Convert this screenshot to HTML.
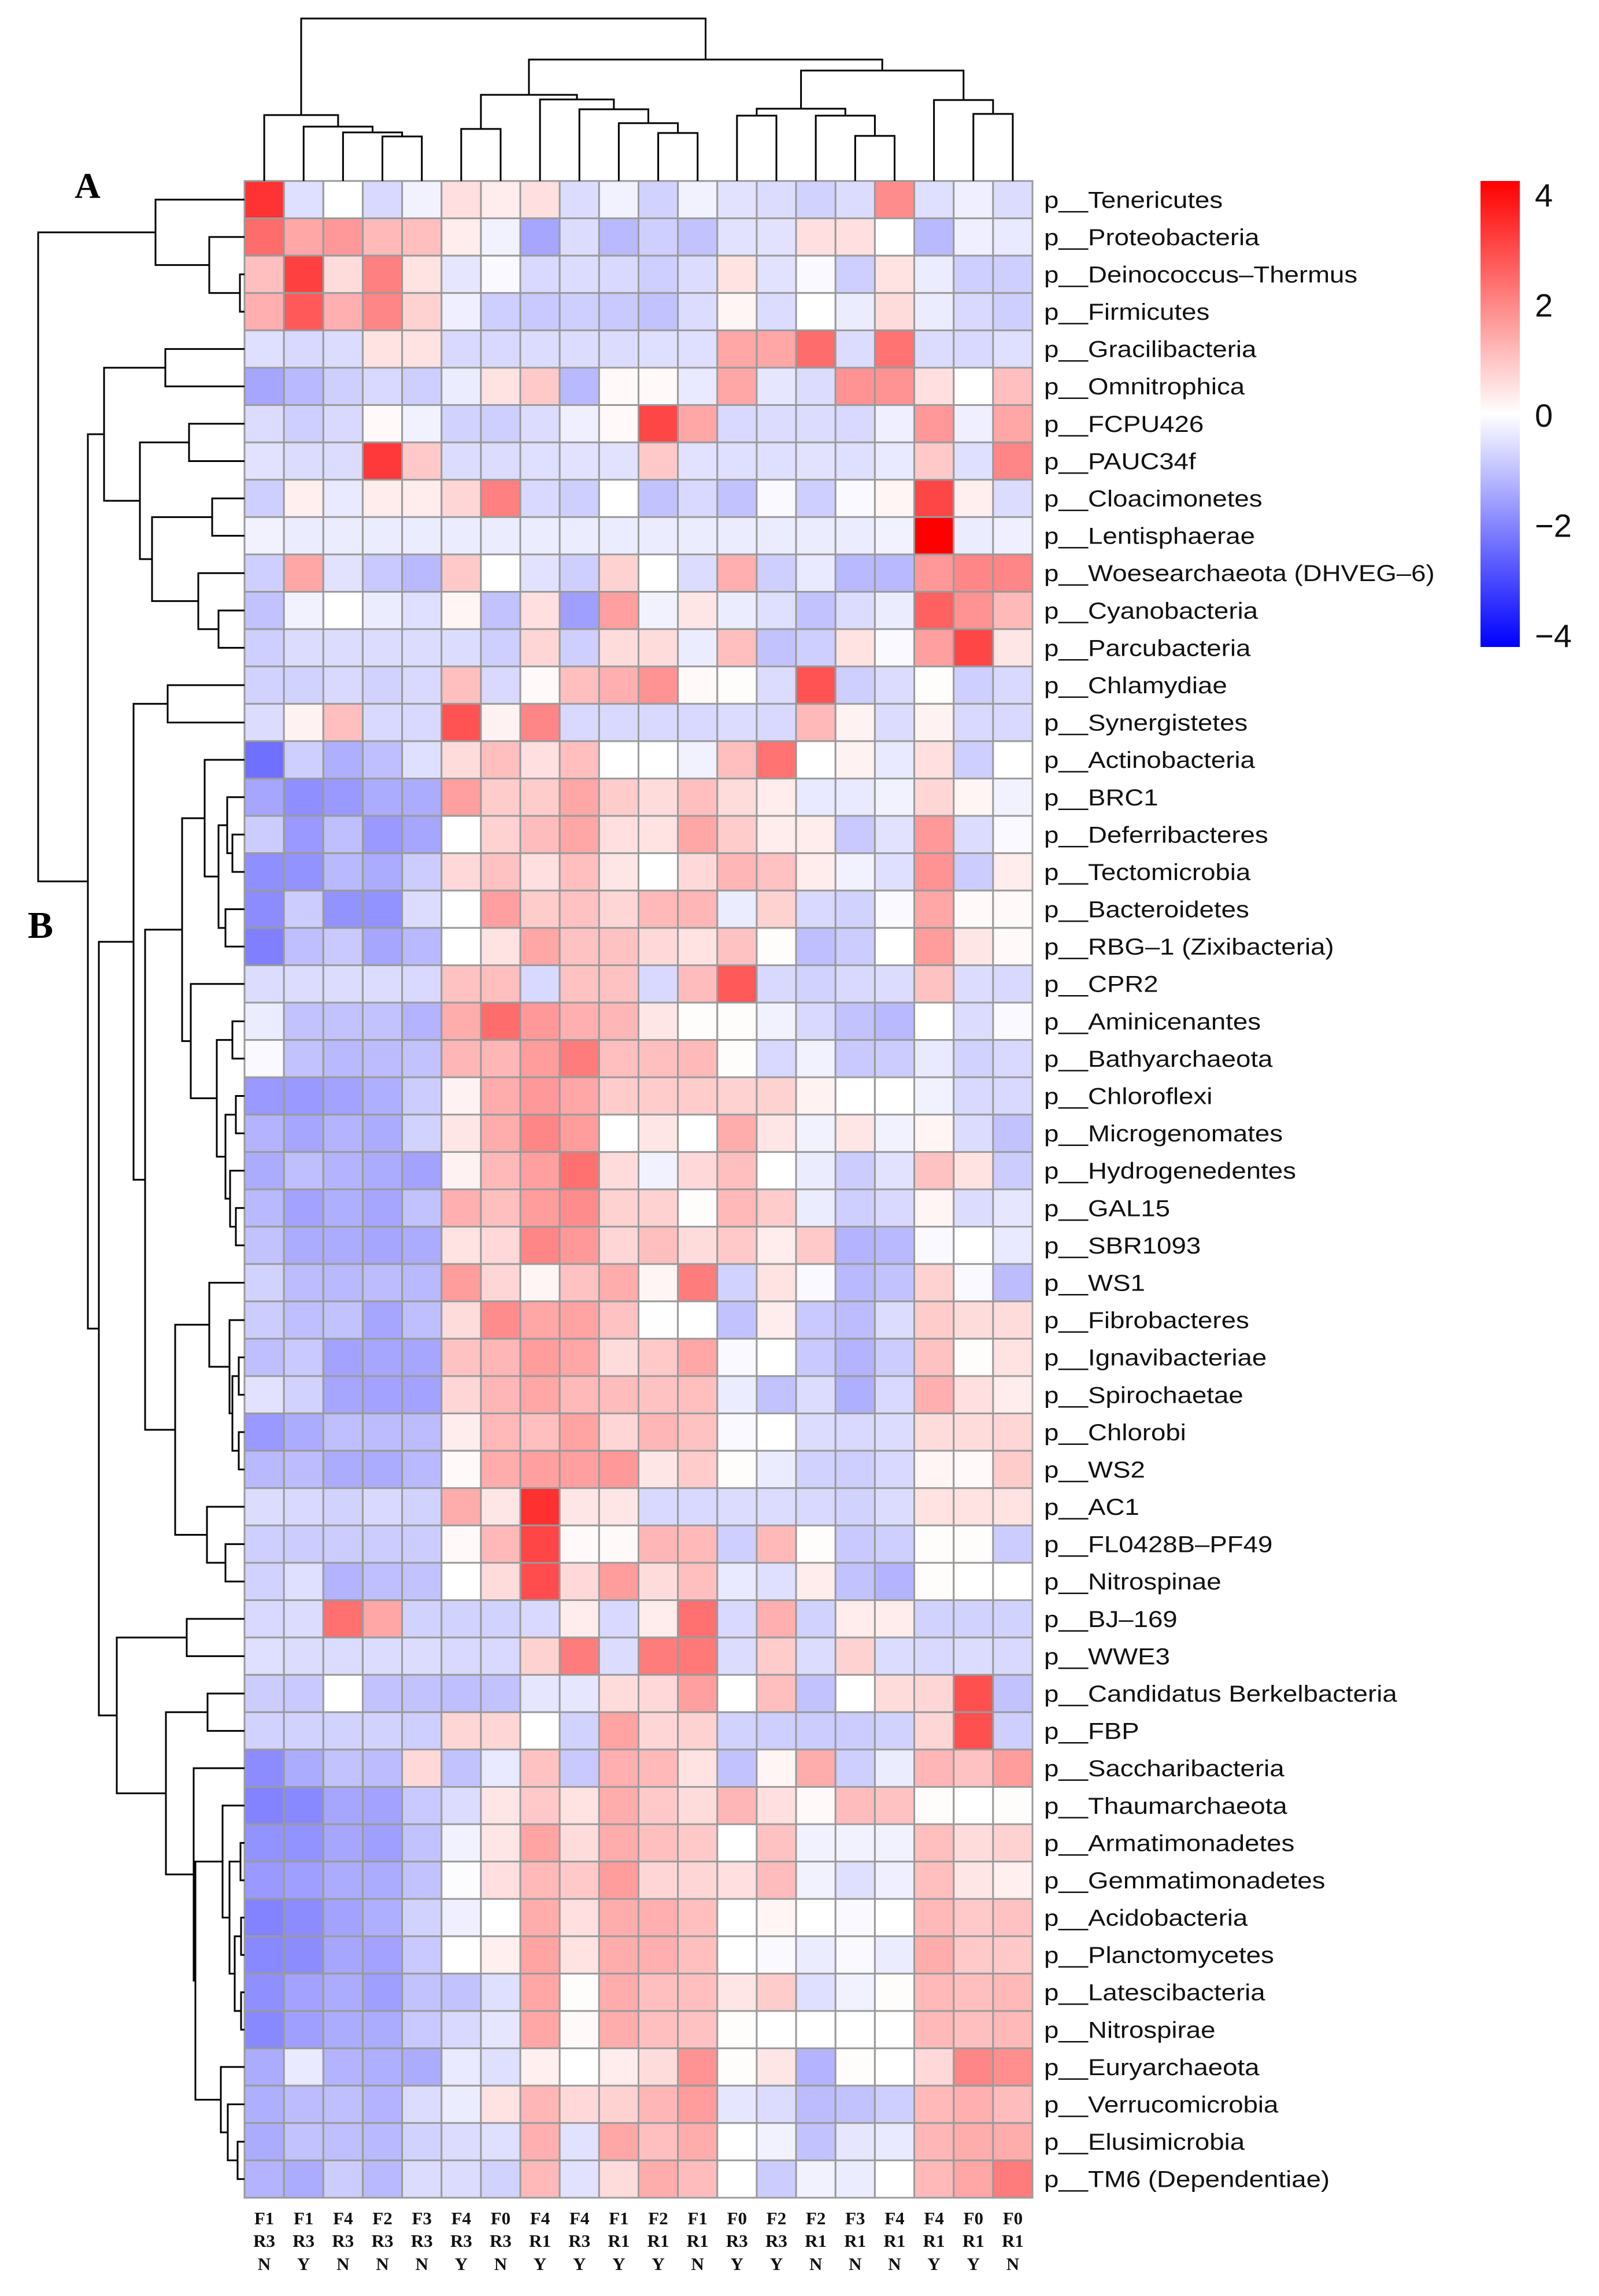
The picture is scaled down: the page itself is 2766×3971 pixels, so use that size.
<!DOCTYPE html>
<html><head><meta charset="utf-8"><title>Phylum heatmap</title>
<style>html,body{margin:0;padding:0;background:#fff}svg{display:block}</style></head>
<body>
<svg id="chart" xmlns="http://www.w3.org/2000/svg" width="2766" height="3971" viewBox="0 0 2766 3971">
<rect width="2766" height="3971" fill="#fff"/>
<text x="129" y="342" font-family="Liberation Serif, serif" font-weight="bold" font-size="62">A</text>
<text x="48" y="1622" font-family="Liberation Serif, serif" font-weight="bold" font-size="66">B</text>
<g id="cells"></g>
<g id="rowDend"></g>
<g id="colDend"></g>
<g id="rowLabels"></g>
<g id="colLabels"></g>
<g id="legend"></g>
</svg>
<script>
const rowNames = ["Tenericutes","Proteobacteria","Deinococcus\u2013Thermus","Firmicutes","Gracilibacteria","Omnitrophica","FCPU426","PAUC34f","Cloacimonetes","Lentisphaerae","Woesearchaeota (DHVEG\u20136)","Cyanobacteria","Parcubacteria","Chlamydiae","Synergistetes","Actinobacteria","BRC1","Deferribacteres","Tectomicrobia","Bacteroidetes","RBG\u20131 (Zixibacteria)","CPR2","Aminicenantes","Bathyarchaeota","Chloroflexi","Microgenomates","Hydrogenedentes","GAL15","SBR1093","WS1","Fibrobacteres","Ignavibacteriae","Spirochaetae","Chlorobi","WS2","AC1","FL0428B\u2013PF49","Nitrospinae","BJ\u2013169","WWE3","Candidatus Berkelbacteria","FBP","Saccharibacteria","Thaumarchaeota","Armatimonadetes","Gemmatimonadetes","Acidobacteria","Planctomycetes","Latescibacteria","Nitrospirae","Euryarchaeota","Verrucomicrobia","Elusimicrobia","TM6 (Dependentiae)"];
const colLine1 = ["F1","F1","F4","F2","F3","F4","F0","F4","F4","F1","F2","F1","F0","F2","F2","F3","F4","F4","F0","F0"];
const colLine2 = ["R3","R3","R3","R3","R3","R3","R3","R1","R3","R1","R1","R1","R3","R3","R1","R1","R1","R1","R1","R1"];
const colLine3 = ["N","Y","N","N","N","Y","N","Y","Y","Y","Y","N","Y","Y","N","N","N","Y","Y","N"];
const legendTicks = [4,2,0,-2,-4];
const values = [
[3.2,-0.5,0,-0.6,-0.2,0.5,0.3,0.5,-0.55,-0.2,-0.7,-0.2,-0.45,-0.55,-0.7,-0.55,1.8,-0.5,-0.25,-0.55],
[2.3,1.4,1.6,1.1,1.0,0.3,-0.2,-1.4,-0.55,-1.1,-0.75,-0.95,-0.45,-0.45,0.5,0.5,0,-1.1,-0.25,-0.35],
[1.0,3.0,0.55,2.0,0.45,-0.4,-0.1,-0.6,-0.55,-0.6,-0.75,-0.55,0.45,-0.45,-0.1,-0.75,0.45,-0.3,-0.75,-0.75],
[1.25,2.6,1.25,1.9,0.7,-0.25,-0.75,-0.85,-0.75,-0.85,-0.95,-0.55,0.15,-0.55,0,-0.3,0.55,-0.3,-0.6,-0.75],
[-0.5,-0.6,-0.55,0.45,0.45,-0.6,-0.6,-0.55,-0.55,-0.55,-0.5,-0.5,1.4,1.4,2.3,-0.55,2.2,-0.55,-0.6,-0.5],
[-1.4,-1.1,-0.75,-0.6,-0.75,-0.3,0.45,0.85,-1.1,0.1,0.1,-0.35,1.4,-0.4,-0.55,1.7,1.7,0.5,0,1.0],
[-0.55,-0.75,-0.6,0.1,-0.2,-0.7,-0.75,-0.55,-0.25,0.1,2.9,1.4,-0.6,-0.55,-0.55,-0.6,-0.25,1.6,-0.25,1.4],
[-0.45,-0.55,-0.55,3.1,0.85,-0.55,-0.55,-0.5,-0.45,-0.45,0.85,-0.45,-0.5,-0.5,-0.45,-0.5,-0.35,0.85,-0.5,1.9],
[-0.75,0.25,-0.35,0.3,0.3,0.65,2.0,-0.6,-0.75,0,-0.95,-0.6,-0.95,-0.1,-0.75,-0.1,0.15,2.9,0.25,-0.55],
[-0.2,-0.3,-0.3,-0.3,-0.3,-0.3,-0.3,-0.3,-0.3,-0.3,-0.3,-0.3,-0.3,-0.3,-0.3,-0.3,-0.2,4.0,-0.3,-0.25],
[-0.75,1.4,-0.45,-0.85,-1.1,0.85,0,-0.45,-0.75,0.7,0,-0.55,1.25,-0.75,-0.35,-1.1,-1.1,1.6,1.9,1.9],
[-0.95,-0.2,0,-0.3,-0.5,0.15,-0.95,0.5,-1.5,1.5,-0.2,0.4,-0.3,-0.5,-0.95,-0.55,-0.3,2.5,1.7,1.1],
[-0.75,-0.55,-0.55,-0.55,-0.55,-0.55,-0.75,0.65,-0.75,0.55,0.55,-0.3,1.0,-0.95,-0.75,0.45,-0.1,1.5,2.9,0.4],
[-0.7,-0.7,-0.6,-0.7,-0.6,1.0,-0.6,0.1,1.0,1.25,1.7,0.1,0.05,-0.55,2.7,-0.75,-0.55,0.05,-0.75,-0.6],
[-0.55,0.2,1.0,-0.6,-0.6,2.7,0.2,1.9,-0.6,-0.6,-0.6,-0.6,-0.55,-0.6,1.1,0.2,-0.55,0.2,-0.6,-0.6],
[-2.25,-0.75,-1.25,-1.0,-0.5,0.55,1.0,0.5,1.0,0,0,-0.2,1.0,2.2,0,0.2,-0.35,0.5,-0.75,0],
[-1.4,-1.75,-1.6,-1.3,-1.3,1.5,0.8,0.8,1.4,0.8,0.55,1.0,0.55,0.3,-0.35,-0.35,-0.2,0.65,0.15,-0.2],
[-0.8,-1.6,-1.0,-1.6,-1.4,0,0.7,1.05,1.4,0.5,0.45,1.4,0.8,0.3,0.3,-0.85,-0.45,1.6,-0.55,-0.1],
[-1.75,-1.7,-1.1,-1.3,-0.8,0.6,0.95,0.5,1.0,0.4,0,0.6,1.15,0.95,0.3,-0.2,-0.5,1.7,-0.8,0.3],
[-1.8,-0.8,-1.7,-1.7,-0.55,0,1.5,0.8,0.95,0.65,1.1,1.15,-0.3,0.7,-0.6,-0.7,-0.1,1.4,0.1,0.1],
[-2.0,-1.0,-0.85,-1.4,-1.1,0,0.45,1.4,0.95,0.95,0.6,0.45,0.95,0.05,-1.0,-0.8,0,1.55,0.4,0.1],
[-0.55,-0.55,-0.55,-0.55,-0.6,0.95,1.0,-0.6,0.95,0.95,-0.6,1.05,2.6,-0.6,-0.7,-0.6,-0.55,0.95,-0.55,-0.6],
[-0.3,-0.95,-0.95,-0.95,-1.2,1.3,2.3,1.6,1.25,1.15,0.4,0.05,0.05,-0.2,-0.6,-0.95,-1.1,0,-0.55,-0.1],
[-0.1,-0.95,-1.1,-1.05,-0.95,1.15,1.15,1.55,2.05,1.0,1.0,1.1,0.05,-0.6,-0.2,-0.85,-0.8,-0.35,-0.7,-0.6],
[-1.6,-1.6,-1.45,-1.25,-0.8,0.2,1.3,1.6,1.4,0.8,0.8,0.8,0.7,0.7,0.2,0,0,-0.2,-0.6,-0.6],
[-1.2,-1.4,-1.2,-1.3,-0.7,0.4,1.3,1.9,1.55,0,0.4,0,1.3,0.4,-0.2,0.4,-0.2,0.15,-0.55,-0.95],
[-1.3,-1.0,-1.2,-1.3,-1.45,0.2,1.1,1.5,2.25,0.55,-0.2,0.6,1.0,0,-0.3,-0.8,-0.45,0.95,0.45,-0.8],
[-1.1,-1.45,-1.25,-1.4,-0.95,1.25,1.0,1.55,1.8,0.7,0.7,0.05,1.1,0.8,-0.3,-0.75,-0.6,0.15,-0.55,-0.4],
[-0.95,-1.3,-1.3,-1.4,-1.3,0.45,0.6,1.9,1.6,0.65,1.0,0.55,0.85,0.3,0.85,-1.2,-1.1,-0.1,0,-0.35],
[-0.7,-1.05,-1.1,-1.05,-1.1,1.55,0.65,0.15,0.95,1.3,0.15,2.05,-0.7,0.45,-0.1,-1.1,-0.95,0.7,-0.1,-1.05],
[-0.8,-1.0,-0.95,-1.4,-1.0,0.55,1.8,1.4,1.45,0.95,0.02,0,-0.95,0.3,-0.85,-1.05,-0.55,0.8,0.55,0.55],
[-1.0,-0.85,-1.45,-1.4,-1.4,0.95,1.15,1.55,1.4,0.55,0.85,1.4,-0.1,0,-0.85,-1.2,-0.8,0.95,0.05,0.45],
[-0.45,-0.7,-1.4,-1.45,-1.45,0.65,1.15,1.4,1.1,1.05,0.95,1.0,-0.3,-0.95,-0.55,-1.25,-0.6,1.25,0.5,0.3],
[-1.6,-1.3,-1.0,-1.05,-1.05,0.3,1.1,1.0,1.45,0.65,1.15,0.95,-0.1,0,-0.55,-0.6,-0.55,0.55,0.55,0.65],
[-1.1,-1.05,-1.3,-1.3,-1.1,0.1,1.3,1.5,1.5,1.6,0.4,0.8,0.05,-0.3,-0.7,-0.75,-0.6,0.15,0.1,0.8],
[-0.55,-0.6,-0.7,-0.6,-0.7,1.3,0.4,3.25,0.4,0.4,-0.6,-0.6,-0.55,-0.55,-0.6,-0.7,-0.55,0.45,0.45,0.45],
[-0.75,-0.8,-0.8,-0.8,-0.8,0.1,1.1,2.9,0.1,0.1,1.15,1.1,-0.75,1.1,0.05,-0.85,-0.75,0.05,0.05,-0.8],
[-0.7,-0.5,-1.2,-1.0,-0.95,0,0.55,2.8,0.6,1.55,0.55,1.0,-0.35,-0.5,0.3,-0.95,-1.2,0.05,0,0],
[-0.6,-0.55,2.25,1.4,-0.7,-0.7,-0.7,-0.6,0.3,-0.6,0.3,2.25,-0.6,1.25,-0.7,0.3,0.3,-0.7,-0.7,-0.7],
[-0.5,-0.55,-0.55,-0.55,-0.55,-0.6,-0.6,0.7,2.05,-0.55,2.05,2.1,-0.55,0.8,-0.55,0.7,-0.55,-0.6,-0.55,-0.6],
[-0.8,-0.85,0,-0.95,-0.95,-1.0,-0.95,-0.4,-0.4,0.55,0.6,1.5,0,1.0,-0.95,0,0.55,0.65,2.75,-0.95],
[-0.7,-0.7,-0.7,-0.7,-0.75,0.65,0.65,0,-0.7,1.45,0.65,0.7,-0.7,-0.75,-0.8,-0.8,-0.7,0.65,2.75,-0.75],
[-1.8,-1.3,-0.95,-1.05,0.6,-0.95,-0.35,0.95,-0.85,1.25,1.1,0.45,-0.95,0.15,1.3,-0.75,-0.3,1.15,0.95,1.55],
[-1.95,-1.85,-1.4,-1.45,-0.85,-0.55,0.4,0.85,0.45,1.3,0.85,0.55,1.15,0.5,0.1,1.05,0.95,0.05,0,0.05],
[-1.7,-1.7,-1.4,-1.5,-0.95,-0.2,0.4,1.45,0.55,1.3,1.0,0.85,0,0.95,-0.2,-0.2,-0.2,1.0,0.55,0.7],
[-1.6,-1.5,-1.3,-1.3,-0.95,-0.05,0.5,1.1,0.85,1.55,0.65,0.65,0.5,1.05,-0.2,-0.5,-0.25,1.0,0.4,0.25],
[-1.95,-1.8,-1.45,-1.25,-0.7,-0.25,0,1.3,0.5,1.3,1.25,1.0,0,0.15,0,-0.1,0,1.1,0.85,0.95],
[-1.85,-1.8,-1.4,-1.45,-0.85,0,0.25,1.45,0.45,1.3,1.25,1.0,0,-0.1,-0.3,-0.1,-0.3,1.3,0.85,0.85],
[-1.75,-1.45,-1.3,-1.5,-0.95,-0.95,-0.5,1.4,0.05,1.3,1.0,1.0,0.4,0.8,-0.5,-0.2,0.05,1.1,1.0,1.1],
[-1.85,-1.5,-1.3,-1.3,-0.85,-0.6,-0.4,1.4,0.1,1.3,1.0,0.95,0.05,0,0,0,0,1.1,1.0,1.1],
[-1.3,-0.35,-1.2,-1.25,-1.3,-0.35,-0.5,0.25,0,0.3,0.55,1.7,0.05,0.4,-1.2,0.05,0,0.6,1.9,1.75],
[-1.25,-1.05,-1.0,-1.2,-0.55,-0.3,0.45,1.15,0.6,0.7,1.15,1.55,-0.4,-0.55,-1.05,-0.95,-0.75,1.1,1.25,1.05],
[-1.3,-0.95,-1.0,-1.1,-0.7,-0.55,-0.5,1.25,-0.45,1.4,1.0,1.3,0,-0.2,-0.95,-0.4,-0.35,1.15,1.3,1.3],
[-1.2,-1.3,-0.8,-1.1,-0.55,-0.55,-0.7,1.1,-0.45,0.55,1.3,1.05,0,-0.8,-0.2,-0.3,0,1.1,1.4,2.05]
];
// dendrogram topology: [mergeHeight, left, right]; leaves are indices
const rowTree = [66,[269,0,[362,1,[415,2,3]]],[152,[180,[286,4,5],[242,[327,6,7],[263,[367,8,9],[343,10,[378,11,12]]]]],[171,[231,[290,13,14],[251,[315,[354,15,[378,[393,16,[402,17,18]],[390,19,20]]],[330,21,[375,[402,22,23],[390,[408,24,25],[398,26,[408,27,28]]]]]],[303,[362,29,[397,30,[402,[413,31,32],[413,33,34]]]],[358,35,[390,36,37]]]]],[202,[323,38,39],[287,[359,40,41],[335,42,[338,[385,43,[397,[416,44,45],[406,[417,46,47],[417,48,49]]]],[382,50,[394,51,[411,52,53]]]]]]]]]];
const colTree = [32,[199,0,[219,1,[229,2,[236,3,4]]]],[103,[164,[223,5,6],[172,7,[189,8,[213,9,[230,10,11]]]]],[122,[188,[200,12,13],[200,14,[235,15,16]]],[173,17,[197,18,19]]]]];

const NS = "http://www.w3.org/2000/svg";
const X0 = 423, X1 = 1786, Y0 = 313, Y1 = 3801;
const nR = rowNames.length, nC = colLine1.length;
const cw = (X1 - X0) / nC, rh = (Y1 - Y0) / nR;
const xCol = i => X0 + cw * i;
const yRow = j => Y0 + rh * j;
const vmin = -4, vmax = 4;
function color(v) {
  const t = Math.max(-1, Math.min(1, v / vmax));
  if (t >= 0) { const c = Math.round(255 * (1 - t)); return `rgb(255,${c},${c})`; }
  const c = Math.round(255 * (1 + t)); return `rgb(${c},${c},255)`;
}
function mk(tag, attrs, parent) {
  const e = document.createElementNS(NS, tag);
  for (const k in attrs) e.setAttribute(k, attrs[k]);
  parent.appendChild(e); return e;
}
const cells = document.getElementById('cells');
for (let r = 0; r < nR; r++) for (let c = 0; c < nC; c++) {
  const el = mk('rect', {x: xCol(c), y: yRow(r), width: cw, height: rh, fill: color(values[r][c]), stroke: '#9a9a9a', 'stroke-width': 3}, cells);
  
  
}
const rl = document.getElementById('rowLabels');
const rlg = mk('g', {transform: 'translate(1806,0) scale(1.14,1)'}, rl);
rowNames.forEach((n, r) => {
  const t = mk('text', {x: 0, y: yRow(r) + rh / 2 + 14, 'font-family': 'Liberation Sans, sans-serif', 'font-size': 40, fill: '#111'}, rlg);
  t.textContent = 'p__' + n;
  
  
});
const cl = document.getElementById('colLabels');
[[colLine1, 3847], [colLine2, 3886], [colLine3, 3926]].forEach(([arr, y]) => {
  arr.forEach((s, c) => {
    const t = mk('text', {x: xCol(c) + cw / 2, y: y, 'text-anchor': 'middle', 'font-family': 'Liberation Serif, serif', 'font-weight': 'bold', 'font-size': 31, fill: '#111'}, cl);
    t.textContent = s;
    
    
  });
});
function drawRow(node, g) {
  if (typeof node === 'number') return {pos: yRow(node) + rh / 2, h: X0};
  const a = drawRow(node[1], g), b = drawRow(node[2], g), h = node[0];
  const p = mk('path', {d: `M${a.h},${a.pos}H${h}V${b.pos}H${b.h}`, fill: 'none', stroke: '#000', 'stroke-width': 3}, g);
  
  
  return {pos: (a.pos + b.pos) / 2, h: h};
}
function drawCol(node, g) {
  if (typeof node === 'number') return {pos: xCol(node) + cw / 2, h: Y0};
  const a = drawCol(node[1], g), b = drawCol(node[2], g), h = node[0];
  const p = mk('path', {d: `M${a.pos},${a.h}V${h}H${b.pos}V${b.h}`, fill: 'none', stroke: '#000', 'stroke-width': 3}, g);
  
  
  return {pos: (a.pos + b.pos) / 2, h: h};
}
drawRow(rowTree, document.getElementById('rowDend'));
drawCol(colTree, document.getElementById('colDend'));
const lg = document.getElementById('legend');
const defs = mk('defs', {}, lg);
const grad = mk('linearGradient', {id: 'lgrad', x1: 0, y1: 0, x2: 0, y2: 1}, defs);
mk('stop', {offset: '0%', 'stop-color': color(4)}, grad);
mk('stop', {offset: '50%', 'stop-color': color(0)}, grad);
mk('stop', {offset: '100%', 'stop-color': color(-4)}, grad);
const LB0 = 313, LB1 = 1119;
const bar = mk('rect', {x: 2561, y: LB0, width: 68, height: LB1 - LB0, fill: 'url(#lgrad)'}, lg);


const ly = v => 337 + (4 - v) / 8 * (1099 - 337);
legendTicks.forEach(v => {
  const t = mk('text', {x: 2655, y: ly(v) + 20, 'font-family': 'Liberation Sans, sans-serif', 'font-size': 56, fill: '#111'}, lg);
  t.textContent = v < 0 ? '\u2212' + Math.abs(v) : String(v);
  
  
});
</script>
</body></html>
